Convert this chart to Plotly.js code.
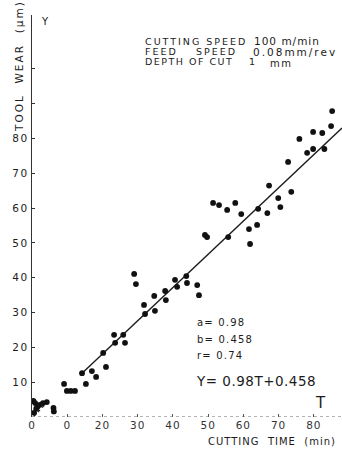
<!DOCTYPE html>
<html>
<head>
<meta charset="utf-8">
<script src="https://cdn.plot.ly/plotly-3.0.1.min.js"></script>
<style>
  html, body { margin: 0; padding: 0; background: #fff; }
  #chart { width: 342px; height: 450px; }
  #chart .ytick text { letter-spacing: 1.5px; }
  #chart .xtick text { letter-spacing: 1px; }
  #chart g.annotation[data-index="0"] text { letter-spacing: 2px; }
  #chart g.annotation[data-index="1"] text { letter-spacing: 1px; }
  #chart g.annotation[data-index="2"] text { letter-spacing: 2px; }
  #chart g.annotation[data-index="3"] text { letter-spacing: 2px; }
  #chart g.annotation[data-index="4"] text { letter-spacing: 2px; }
  #chart g.annotation[data-index="5"] text { letter-spacing: 1.5px; }
  #chart g.annotation[data-index="7"] text { letter-spacing: 1.5px; }
  #chart g.annotation[data-index="8"] text { letter-spacing: 1.2px; }
  #chart g.annotation[data-index="9"] text { letter-spacing: 1.2px; }
  #chart g.annotation[data-index="10"] text { letter-spacing: 1.2px; }
  #chart g.annotation[data-index="11"] text { letter-spacing: 0.5px; }
  #chart g.annotation[data-index="13"] text { letter-spacing: 1px; }
  #chart g.annotation[data-index="15"] text { letter-spacing: 2px; }
</style>
</head>
<body>
<div id="chart"></div>
<script>
// Measured points: cutting time T (min) and tool wear Y (µm)
const timeMin = [0.4, 0.6, 0.9, 1.2, 1.6, 2.2, 3.1, 4.2, 6.1, 6.2,
  9.1, 9.9, 11.0, 12.2, 14.2, 15.3, 17.0, 18.2, 20.2, 21.0,
  23.3, 23.6, 25.9, 26.4, 29.0, 29.5, 31.8, 32.1, 34.7, 34.9,
  37.8, 38.0, 40.6, 41.2, 43.8, 44.0, 46.9, 47.4, 49.1, 49.7,
  51.4, 53.1, 55.4, 55.7, 57.7, 59.4, 61.6, 61.9, 63.9, 64.2,
  66.8, 67.3, 69.9, 70.5, 72.7, 73.6, 75.9, 78.1, 79.8, 79.8,
  82.4, 83.0, 84.9, 85.2];
const wearUm = [4.6, 1.2, 4.0, 2.4, 3.0, 3.5, 4.0, 4.3, 2.6, 1.6,
  9.5, 7.5, 7.5, 7.5, 12.6, 9.5, 13.2, 11.5, 18.4, 14.4,
  23.6, 21.3, 23.6, 21.3, 41.1, 38.2, 32.2, 29.6, 34.8, 30.5,
  36.2, 33.6, 39.4, 37.4, 40.5, 38.5, 37.9, 35.0, 52.3, 51.7,
  61.5, 60.9, 59.5, 51.7, 61.5, 58.3, 54.0, 49.7, 55.2, 59.8,
  58.6, 66.5, 62.9, 60.3, 73.3, 64.7, 79.9, 75.9, 77.0, 81.9,
  81.6, 77.0, 83.6, 87.9];

// Regression line as drawn in the figure
const fitT = [14.2, 88];
const fitY = [12.6, 83];
// Short dashed line near the origin
const originT = [0.5, 4.4];
const originY = [0.2, 4.3];

// Tick labels
const xTickVals = [0, 10, 20, 30, 40, 50, 60, 70, 80];
const xTickText = ['0', '0', '20', '30', '40', '50', '60', '70', '80'];
const yTickVals = [0, 10, 20, 30, 40, 50, 60, 70, 80, 90, 100];
const yTickText = ['', '10', '20', '30', '40', '50', '60', '70', '80', '', ''];

// Pixel helpers for text placement (plot: left 32, bottom 417)
const L = 32, R = 0, T = 15, B = 33, W = 342, H = 450;
const pw = W - L - R, ph = H - T - B;
const px = x => (x - L) / pw;
const py = y => (H - B - y) / ph;

const ink = '#1c1c1c';
const fam = '"DejaVu Sans", "Liberation Sans", sans-serif';

function ann(text, x, y, size, opts) {
  return Object.assign({
    text: text, xref: 'paper', yref: 'paper', x: px(x), y: py(y),
    xanchor: 'left', yanchor: 'middle', align: 'left', showarrow: false,
    font: { family: fam, size: size, color: ink }
  }, opts || {});
}

const data = [
  { x: originT, y: originY, mode: 'lines', type: 'scatter',
    line: { color: ink, width: 1.2, dash: 'dot' }, hoverinfo: 'skip' },
  { x: fitT, y: fitY, mode: 'lines', type: 'scatter',
    line: { color: ink, width: 1.4 }, hoverinfo: 'skip' },
  { x: timeMin, y: wearUm, mode: 'markers', type: 'scatter',
    marker: { color: '#111', size: 5.8 } }
];

const layout = {
  width: W, height: H,
  margin: { l: L, r: R, t: T, b: B, pad: 0 },
  paper_bgcolor: '#fff', plot_bgcolor: '#fff',
  showlegend: false,
  font: { family: fam, color: ink, size: 10 },
  xaxis: {
    range: [0, 88], showgrid: false, zeroline: false, showline: false,
    tickmode: 'array', tickvals: xTickVals, ticktext: xTickText,
    ticks: 'inside', ticklen: 3, tickcolor: '#555', tickwidth: 1,
    tickfont: { family: fam, size: 10.5, color: '#333' }
  },
  yaxis: {
    range: [0, 115.5], showgrid: false, zeroline: false,
    showline: true, linecolor: '#333', linewidth: 1.2,
    tickmode: 'array', tickvals: yTickVals, ticktext: yTickText,
    ticks: 'inside', ticklen: 3, tickcolor: '#333', tickwidth: 1,
    tickfont: { family: fam, size: 10.5, color: ink }
  },
  shapes: [
    { type: 'line', xref: 'x', yref: 'y', x0: 0, x1: 88, y0: 0, y1: 0,
      line: { color: '#666', width: 1, dash: 'dot' } }
  ],
  annotations: [
    ann('CUTTING SPEED', 143, 42, 9.5),
    ann('100 m/min', 252, 41, 10.5),
    ann('FEED', 143, 52, 9.5),
    ann('SPEED', 194, 52, 9.5),
    ann('0.08mm/rev', 251, 52, 10.5),
    ann('DEPTH OF CUT', 143, 62, 9.5),
    ann('1', 247, 62, 9.5),
    ann('mm', 268, 63, 10),
    ann('a= 0.98', 195, 322, 10),
    ann('b= 0.458', 195, 339, 10),
    ann('r= 0.74', 195, 355, 10),
    ann('Y= 0.98T+0.458', 194, 381, 13.5),
    ann('T', 313, 403, 15),
    ann('CUTTING  TIME  (min)', 206, 441, 10),
    ann('Y', 39, 21, 10),
    Object.assign(ann('TOOL  WEAR  (μm)', 19, 66, 10.5), { xanchor: 'center', align: 'center', textangle: -90 })
  ]
};

Plotly.newPlot('chart', data, layout, { displayModeBar: false, staticPlot: true });
</script>
</body>
</html>
